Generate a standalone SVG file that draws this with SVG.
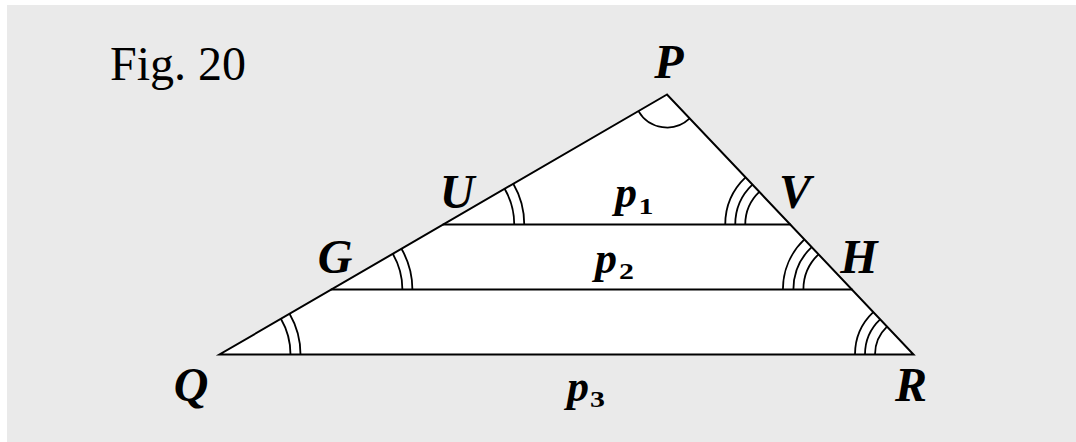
<svg xmlns="http://www.w3.org/2000/svg" width="1076" height="442" viewBox="0 0 1076 442">
  <style>
    .edge { fill: none; stroke: #000; stroke-width: 2; stroke-linecap: round; }
    .arc { fill: none; stroke: #000; stroke-width: 1.8; }
    .lbl { font-family: "Liberation Serif", "Times New Roman", serif; font-weight: bold; font-style: italic; font-size: 48px; fill: #000; text-anchor: middle; }
    .p { font-family: "Liberation Serif", "Times New Roman", serif; font-weight: bold; font-style: italic; font-size: 44px; fill: #000; }
    .sub { font-family: "Liberation Serif", "Times New Roman", serif; font-weight: bold; font-size: 23px; fill: #000; }
    .title { font-family: "Liberation Serif", "Times New Roman", serif; font-size: 48px; fill: #000; }
  </style>
  <rect x="7" y="5" width="1069" height="437" fill="#eaeaea"/>
  <text class="title" x="110" y="80">Fig. 20</text>

  <g id="triangle">
    <polygon points="667,94.5 219.5,354.5 913.5,354.5" fill="#fff" stroke="#000" stroke-width="2" stroke-linejoin="miter"/>
  </g>
  <g id="connectors">
    <line class="edge" x1="443.25" y1="224.5" x2="790.25" y2="224.5"/>
    <line class="edge" x1="331.4" y1="289.5" x2="851.9" y2="289.5"/>
  </g>
  <g id="angles">
    <path class="arc" d="M638.47,111.08 A33,33 0 0 0 689.71,118.45"/>
    <path class="arc" d="M290.5,354.5 A71,71 0 0 0 280.89,318.82"/>
    <path class="arc" d="M300.5,354.5 A81,81 0 0 0 289.54,313.8"/>
    <path class="arc" d="M514.25,224.5 A71,71 0 0 0 504.64,188.82"/>
    <path class="arc" d="M524.25,224.5 A81,81 0 0 0 513.29,183.8"/>
    <path class="arc" d="M402.4,289.5 A71,71 0 0 0 392.79,253.82"/>
    <path class="arc" d="M412.4,289.5 A81,81 0 0 0 401.44,248.8"/>
    <path class="arc" d="M745.25,224.5 A45,45 0 0 1 759.29,191.85"/>
    <path class="arc" d="M735.25,224.5 A55,55 0 0 1 752.40,184.59"/>
    <path class="arc" d="M725.25,224.5 A65,65 0 0 1 745.52,177.34"/>
    <path class="arc" d="M803.4,289.5 A48.5,48.5 0 0 1 818.53,254.31"/>
    <path class="arc" d="M793.4,289.5 A58.5,58.5 0 0 1 811.65,247.05"/>
    <path class="arc" d="M782.9,289.5 A69,69 0 0 1 804.42,239.43"/>
    <path class="arc" d="M875,354.5 A38.5,38.5 0 0 1 887.01,326.56"/>
    <path class="arc" d="M865,354.5 A48.5,48.5 0 0 1 880.13,319.31"/>
    <path class="arc" d="M855,354.5 A58.5,58.5 0 0 1 873.25,312.05"/>
  </g>

  <g id="node-P"><text class="lbl" x="669" y="78">P</text></g>
  <g id="node-U"><text class="lbl" x="457" y="208">U</text></g>
  <g id="node-V"><text class="lbl" x="795" y="208">V</text></g>
  <g id="node-G"><text class="lbl" x="335" y="273">G</text></g>
  <g id="node-H"><text class="lbl" x="859" y="273">H</text></g>
  <g id="node-Q"><text class="lbl" x="191" y="401">Q</text></g>
  <g id="node-R"><text class="lbl" x="911" y="401">R</text></g>

  <g id="label-p1">
    <text class="p" x="615" y="207">p</text>
    <text class="sub" transform="translate(638.5,213.5) scale(1.3,1)">1</text>
  </g>
  <g id="label-p2">
    <text class="p" x="595" y="273">p</text>
    <text class="sub" transform="translate(619,278.5) scale(1.3,1)">2</text>
  </g>
  <g id="label-p3">
    <text class="p" x="567" y="401">p</text>
    <text class="sub" transform="translate(590,406.5) scale(1.3,1)">3</text>
  </g>
</svg>
